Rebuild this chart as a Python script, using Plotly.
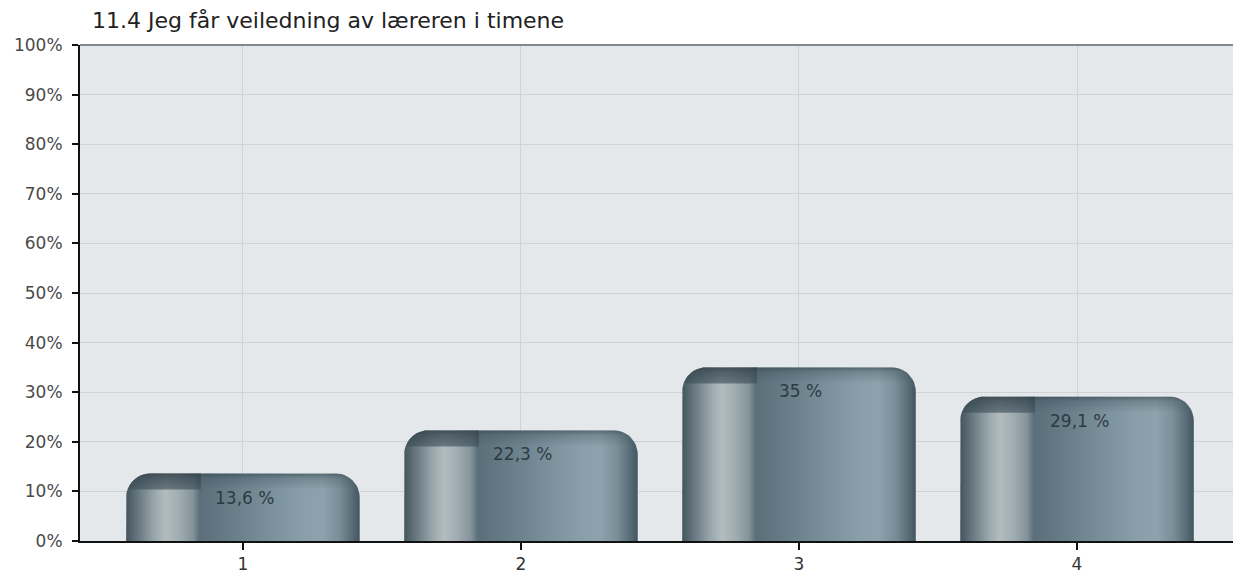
import math
import plotly.graph_objects as go

title = "11.4 Jeg får veiledning av læreren i timene"
categories = ["1", "2", "3", "4"]
values = [13.6, 22.3, 35.0, 29.1]
value_labels = ["13,6 %", "22,3 %", "35 %", "29,1 %"]
y_ticks = [0, 10, 20, 30, 40, 50, 60, 70, 80, 90, 100]
y_tick_labels = [f"{t}%" for t in y_ticks]

# styling / geometry
W, H = 1233, 579
ML, MR, MT, MB = 80, 0, 45, 38
X_RANGE = [0.414, 4.561]
Y_RANGE = [0, 100]
BAR_HALF = 0.42
RADIUS_PX = 24
BAND_PX = 16
STRIP_FRAC = 0.32
FONT = "DejaVu Sans, Liberation Sans, Arial"

plot_w = W - ML - MR
plot_h = H - MT - MB
ux = (X_RANGE[1] - X_RANGE[0]) / plot_w   # x units per pixel
uy = (Y_RANGE[1] - Y_RANGE[0]) / plot_h   # y units per pixel
rx, ry = RADIUS_PX * ux, RADIUS_PX * uy


def top_path(x0, x1, v, bottom, round_left=True, round_right=True):
    n = 12
    xs, ys = [x0], [bottom]
    if round_left:
        for k in range(n + 1):
            a = math.pi - k * (math.pi / 2) / n
            xs.append(x0 + rx + rx * math.cos(a))
            ys.append(max(bottom, v - ry + ry * math.sin(a)))
    else:
        xs.append(x0); ys.append(v)
    if round_right:
        for k in range(n + 1):
            a = math.pi / 2 - k * (math.pi / 2) / n
            xs.append(x1 - rx + rx * math.cos(a))
            ys.append(max(bottom, v - ry + ry * math.sin(a)))
    else:
        xs.append(x1); ys.append(v)
    xs += [x1, x0]
    ys += [bottom, bottom]
    return xs, ys


body_scale = [
    [0.00, "#44555e"], [0.05, "#67777f"], [0.12, "#98a6ab"], [0.17, "#b2bcbf"],
    [0.22, "#a3afb3"], [0.285, "#85949b"], [0.315, "#5a6f7a"], [0.45, "#677d88"],
    [0.60, "#788f9a"], [0.75, "#889ea8"], [0.84, "#8da2ac"], [0.91, "#7a8f99"],
    [0.965, "#5a6e78"], [1.00, "#425560"],
]


def add_poly(xs, ys, gradient):
    fig.add_trace(go.Scatter(x=xs, y=ys, mode="lines", line=dict(width=0), fill="toself",
                             fillgradient=gradient, hoverinfo="skip", showlegend=False))


fig = go.Figure()
positions = list(range(1, len(categories) + 1))
for c, v in zip(positions, values):
    x0, x1 = c - BAR_HALF, c + BAR_HALF
    band_bottom = v - BAND_PX * uy
    xs, ys = top_path(x0, x1, v, 0)
    add_poly(xs, ys, dict(type="horizontal", colorscale=body_scale, start=x0, stop=x1))
    # soft shading across the whole top
    xs, ys = top_path(x0, x1, v, band_bottom)
    add_poly(xs, ys, dict(type="vertical", start=band_bottom, stop=v,
                          colorscale=[[0, "rgba(60,78,88,0)"], [0.7, "rgba(60,78,88,0.3)"],
                                      [1, "rgba(50,64,72,0.6)"]]))
    # darker cap over the left highlight strip
    xs, ys = top_path(x0, x0 + STRIP_FRAC * 2 * BAR_HALF, v, band_bottom, True, False)
    add_poly(xs, ys, dict(type="vertical", start=band_bottom, stop=v,
                          colorscale=[[0, "rgba(62,80,90,0.62)"], [1, "rgba(50,64,72,0.7)"]]))

for c, v, t in zip(positions, values, value_labels):
    fig.add_annotation(x=c, y=v, text=t, showarrow=False, yshift=-24, xshift=2,
                       font=dict(family=FONT, size=17, color="#2d3a42"))

fig.update_layout(
    width=W, height=H,
    margin=dict(l=ML, r=MR, t=MT, b=MB),
    paper_bgcolor="white", plot_bgcolor="#e5e8eb",
    showlegend=False,
    font=dict(family=FONT, size=17, color="#333333"),
    title=dict(text=title, x=92 / W, xanchor="left", y=1 - 20 / H, yanchor="middle",
               font=dict(family=FONT, size=22, color="#222222")),
)
fig.update_xaxes(
    range=X_RANGE, tickvals=positions, ticktext=categories,
    showgrid=True, gridcolor="#d0d3d6", gridwidth=1, zeroline=False,
    showline=True, linecolor="#111111", linewidth=2,
    ticks="outside", ticklen=7, tickcolor="#111111", tickwidth=2,
    tickfont=dict(size=17, color="#333333"), automargin=False,
)
fig.update_yaxes(
    range=Y_RANGE, tickvals=y_ticks, ticktext=y_tick_labels,
    showgrid=True, gridcolor="#d0d3d6", gridwidth=1,
    showline=True, linecolor="#111111", linewidth=2,
    ticks="outside", ticklen=6, tickcolor="#111111", tickwidth=2,
    ticklabelstandoff=6,
    tickfont=dict(size=17, color="#4a4a4a"), zeroline=False, automargin=False,
)
fig.add_shape(type="line", xref="paper", yref="paper", x0=0, x1=1, y0=1, y1=1,
              line=dict(color="#85898c", width=2))
fig.write_html("out.html", config={"displayModeBar": False, "staticPlot": True},
               post_script="document.body.style.margin='0';document.body.style.overflow='hidden';")
